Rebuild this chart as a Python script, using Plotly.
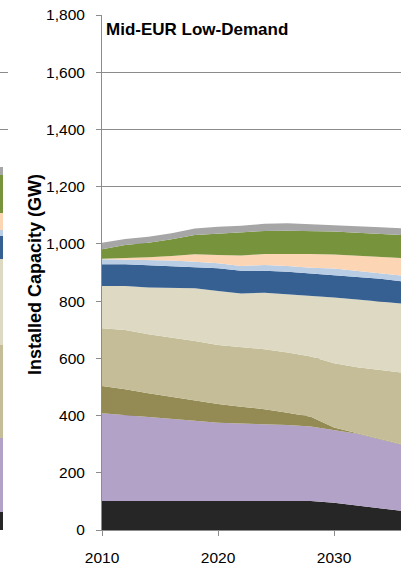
import plotly.graph_objects as go

# Installed capacity by technology, GW (stacked bottom to top)
years = [2010, 2012, 2014, 2016, 2018, 2020, 2022, 2024, 2026, 2028, 2030, 2032, 2034, 2036]

series_names = ["Nuclear", "Coal", "Lignite", "Gas", "Oil & Other", "Hydro",
                "Biomass", "Solar", "Wind", "Other RES"]

nuclear = [101, 101, 101, 101, 101, 101, 101, 101, 101, 101, 95, 85, 76, 66]
coal = [307, 301, 293, 287, 281, 274, 272, 269, 266, 261, 255, 251, 240, 231]
lignite = [95, 90, 84, 78, 72, 65, 58, 52, 43, 34, 8, 2, 1, 1]
gas = [202, 207, 206, 207, 207, 207, 208, 210, 210, 210, 225, 231, 242, 251]
oil_other = [148, 154, 164, 174, 184, 188, 188, 197, 204, 211, 230, 237, 239, 242]
hydro = [76, 76, 77, 75, 75, 80, 79, 77, 79, 80, 79, 79, 80, 77]
biomass = [17, 16, 18, 20, 18, 17, 17, 20, 20, 20, 22, 20, 19, 21]
solar = [2, 5, 10, 16, 26, 29, 36, 39, 43, 48, 49, 54, 57, 61]
wind = [33, 46, 51, 58, 67, 74, 80, 80, 80, 80, 80, 80, 81, 81]
other_res = [23, 21, 21, 21, 23, 25, 24, 25, 26, 24, 23, 24, 23, 23]

values = [nuclear, coal, lignite, gas, oil_other, hydro, biomass, solar, wind, other_res]
colors = ["#262626", "#b3a2c7", "#948a54", "#c4bd97", "#ddd9c3",
          "#376092", "#b9cde5", "#fcd5b5", "#77933c", "#a6a6a6"]

# Neighbouring panel's last stacked bar (partly visible at the left edge)
side_names = ["Nuclear", "Coal", "Gas", "Oil & Other", "Hydro",
              "Biomass", "Solar", "Wind", "Other RES"]
side_values = [64, 258, 325, 299, 82, 21, 58, 134, 29]
side_colors = ["#262626", "#b3a2c7", "#c4bd97", "#ddd9c3", "#376092",
               "#b9cde5", "#fcd5b5", "#77933c", "#a6a6a6"]

y_ticks = list(range(0, 1801, 200))
x_ticks = [2010, 2020, 2030]

W, H = 401, 566
grid_col = "#8c8c8c"
font_family = "Liberation Sans, Arial, sans-serif"

fig = go.Figure()

for name, vals, col in zip(series_names, values, colors):
    fig.add_trace(go.Scatter(
        x=years, y=vals, name=name, mode="lines",
        stackgroup="cap", line=dict(width=0, color=col),
        fillcolor=col, xaxis="x", yaxis="y", hoverinfo="skip",
    ))

for name, v, col in zip(side_names, side_values, side_colors):
    fig.add_trace(go.Bar(
        x=[0], y=[v], name=name, marker=dict(color=col, line=dict(width=0)),
        width=1.0, xaxis="x2", yaxis="y2", showlegend=False, hoverinfo="skip",
    ))

plot_left = 102 / W

fig.update_layout(
    width=W, height=H,
    margin=dict(l=0, r=0, t=15, b=36, pad=0, autoexpand=False),
    paper_bgcolor="white", plot_bgcolor="white",
    showlegend=False, barmode="stack",
    font=dict(family=font_family, size=15, color="#000000"),
    xaxis=dict(
        domain=[plot_left, 1.0], range=[2010, 2010 + 299 / 11.6],
        tickvals=x_ticks, ticks="outside", ticklen=5, tickcolor=grid_col,
        showline=True, linecolor=grid_col, linewidth=1,
        showgrid=False, zeroline=False, anchor="y", automargin=False,
        tickfont=dict(size=15.5), ticklabelstandoff=8,
    ),
    yaxis=dict(
        range=[0, 1800], tickvals=y_ticks, tickformat=",",
        ticks="outside", ticklen=5, tickcolor=grid_col,
        showline=True, linecolor=grid_col, linewidth=1,
        showgrid=True, gridcolor=grid_col, gridwidth=1,
        zeroline=False, anchor="x", automargin=False,
        tickfont=dict(size=15.5), ticklabelstandoff=8,
    ),
    xaxis2=dict(
        domain=[0, 8 / W], range=[0, 4 / 3], anchor="y2", automargin=False,
        showticklabels=False, showgrid=False, zeroline=False, showline=False,
    ),
    yaxis2=dict(
        range=[0, 1800], tickvals=[1400, 1600, 1800], anchor="x2", automargin=False,
        showticklabels=False, showgrid=True, gridcolor=grid_col, gridwidth=1,
        zeroline=False, showline=False,
    ),
    annotations=[
        dict(text="<b>Mid-EUR Low-Demand</b>", xref="paper", yref="paper",
             x=104 / W, y=(530 - 17.5) / 515, xanchor="left", yanchor="top",
             showarrow=False, font=dict(size=17, color="#000000")),
        dict(text="<b>Installed Capacity (GW)</b>", xref="paper", yref="paper",
             x=34.5 / W, y=(530 - 274.5) / 515, xanchor="center", yanchor="middle",
             textangle=-90, showarrow=False, font=dict(size=18, color="#000000")),
    ],
)

fig.write_html("out.html", config={"displayModeBar": False})
